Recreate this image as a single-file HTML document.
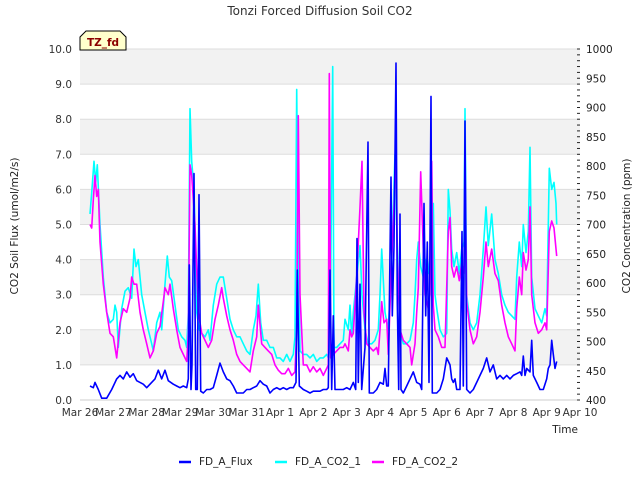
<!DOCTYPE html>
<html><head><meta charset="utf-8"><style>
body{margin:0;background:#fff;}
svg{display:block;font-family:"DejaVu Sans","Liberation Sans",sans-serif;}
</style></head><body>
<svg id="chart" width="640" height="480" viewBox="0 0 640 480">
<text x="320" y="15" text-anchor="middle" font-size="12" fill="#333">Tonzi Forced Diffusion Soil CO2</text>
<g id="bands"></g>
<g id="grid"></g>
<g id="series"></g>
<g id="axes"></g>
<text transform="translate(18,226) rotate(-90)" text-anchor="middle" font-size="10.5" fill="#222">CO2 Soil Flux (umol/m2/s)</text>
<text transform="translate(630,226) rotate(-90)" text-anchor="middle" font-size="10.5" fill="#222">CO2 Concentration (ppm)</text>
<text x="578" y="433" text-anchor="end" font-size="10.5" fill="#222">Time</text>
<g>
<path d="M80,37 L86,31 L120,31 L126,37 L126,50 L80,50 Z" fill="#ffffcc" stroke="#000" stroke-width="1"/>
<text x="103" y="46" text-anchor="middle" font-size="10.5" font-weight="bold" fill="#8b0000">TZ_fd</text>
</g>
<g>
<g><line x1="179" y1="462" x2="191" y2="462" stroke="#0000ff" stroke-width="2.5"/><text x="199" y="465" font-size="10.5" fill="#222">FD_A_Flux</text></g>
<g><line x1="275" y1="462" x2="287" y2="462" stroke="#00ffff" stroke-width="2.5"/><text x="295" y="465" font-size="10.5" fill="#222">FD_A_CO2_1</text></g>
<g><line x1="372" y1="462" x2="384" y2="462" stroke="#ff00ff" stroke-width="2.5"/><text x="392" y="465" font-size="10.5" fill="#222">FD_A_CO2_2</text></g>
</g>
</svg>
<script>
const xTickLabels=["Mar 26","Mar 27","Mar 28","Mar 29","Mar 30","Mar 31","Apr 1","Apr 2","Apr 3","Apr 4","Apr 5","Apr 6","Apr 7","Apr 8","Apr 9","Apr 10"];
const leftTicks=[0,1,2,3,4,5,6,7,8,9,10];
const rightTicks=[400,450,500,550,600,650,700,750,800,850,900,950,1000];
const fluxT=[0.3,0.4,0.45,0.55,0.65,0.8,0.95,1.1,1.2,1.3,1.4,1.5,1.6,1.7,1.8,1.9,2.0,2.1,2.25,2.35,2.45,2.55,2.65,2.8,2.9,3.0,3.1,3.2,3.25,3.28,3.33,3.36,3.42,3.47,3.52,3.57,3.62,3.7,3.8,3.9,4.0,4.1,4.2,4.3,4.4,4.5,4.6,4.7,4.8,4.9,5.0,5.1,5.2,5.3,5.4,5.5,5.6,5.7,5.8,5.9,6.0,6.1,6.2,6.3,6.4,6.48,6.52,6.58,6.7,6.8,6.9,7.0,7.1,7.2,7.3,7.4,7.45,7.5,7.55,7.6,7.65,7.7,7.8,7.9,8.0,8.1,8.2,8.27,8.31,8.35,8.4,8.45,8.55,8.64,8.68,8.8,8.9,9.0,9.1,9.15,9.2,9.25,9.33,9.37,9.42,9.48,9.52,9.56,9.6,9.63,9.7,9.8,9.9,10.0,10.1,10.2,10.25,10.32,10.37,10.42,10.47,10.53,10.57,10.7,10.8,10.9,11.0,11.1,11.15,11.2,11.25,11.3,11.4,11.46,11.5,11.55,11.6,11.7,11.8,11.9,12.0,12.1,12.2,12.3,12.4,12.5,12.6,12.7,12.8,12.9,13.0,13.1,13.2,13.25,13.3,13.35,13.4,13.5,13.55,13.6,13.7,13.8,13.9,14.0,14.05,14.1,14.15,14.2,14.25,14.3];
const fluxV=[0.4,0.35,0.5,0.3,0.05,0.05,0.3,0.6,0.7,0.6,0.8,0.65,0.75,0.55,0.5,0.45,0.35,0.45,0.6,0.85,0.6,0.85,0.55,0.45,0.4,0.35,0.4,0.35,0.6,3.85,0.3,1.0,6.45,0.3,0.3,5.85,0.25,0.2,0.3,0.3,0.35,0.7,1.05,0.8,0.6,0.55,0.4,0.2,0.2,0.2,0.3,0.3,0.35,0.4,0.55,0.45,0.4,0.2,0.3,0.35,0.3,0.35,0.3,0.35,0.35,0.5,3.7,0.4,0.3,0.25,0.2,0.25,0.25,0.25,0.3,0.3,0.35,3.7,0.3,2.4,0.3,0.3,0.3,0.3,0.35,0.3,0.5,0.3,4.6,0.5,3.3,0.3,1.5,7.35,0.2,0.2,0.3,0.5,0.45,0.9,0.4,0.4,6.35,2.4,4.4,9.6,2.8,0.3,5.3,0.3,0.2,0.4,0.6,0.8,0.5,0.45,0.3,5.6,2.4,4.5,0.5,8.65,0.2,0.2,0.3,0.6,1.2,1.0,0.6,0.5,0.6,0.3,0.3,4.8,0.4,7.95,0.3,0.2,0.3,0.5,0.7,0.9,1.2,0.8,1.0,0.6,0.7,0.6,0.7,0.6,0.7,0.75,0.8,0.7,1.25,0.7,0.9,0.8,1.7,0.7,0.5,0.3,0.3,0.6,0.9,1.0,1.7,1.3,0.9,1.1];
const co21T=[0.3,0.35,0.42,0.47,0.52,0.6,0.7,0.8,0.9,1.0,1.05,1.1,1.15,1.25,1.35,1.45,1.55,1.62,1.68,1.75,1.85,1.95,2.05,2.15,2.2,2.3,2.4,2.45,2.55,2.62,2.68,2.75,2.85,2.95,3.05,3.15,3.2,3.25,3.3,3.35,3.42,3.5,3.58,3.65,3.75,3.85,3.9,4.0,4.1,4.2,4.3,4.4,4.5,4.6,4.7,4.8,4.9,5.0,5.1,5.2,5.28,5.35,5.42,5.5,5.6,5.7,5.8,5.9,6.0,6.1,6.2,6.3,6.4,6.45,6.5,6.55,6.6,6.7,6.8,6.9,7.0,7.1,7.2,7.3,7.4,7.45,7.5,7.58,7.62,7.7,7.8,7.9,7.95,8.05,8.1,8.15,8.2,8.3,8.4,8.46,8.55,8.65,8.75,8.85,8.95,9.0,9.05,9.15,9.25,9.35,9.45,9.5,9.55,9.6,9.7,9.8,9.9,10.0,10.05,10.1,10.15,10.22,10.3,10.38,10.45,10.55,10.6,10.65,10.72,10.8,10.9,11.0,11.05,11.1,11.15,11.22,11.3,11.38,11.45,11.52,11.55,11.6,11.7,11.8,11.9,12.0,12.1,12.18,12.25,12.35,12.45,12.55,12.65,12.75,12.85,12.95,13.05,13.1,13.18,13.25,13.3,13.38,13.45,13.5,13.55,13.65,13.75,13.85,13.95,14.0,14.08,14.15,14.22,14.28,14.3];
const co21V=[718,754,808,772,802,700,610,550,532,538,562,550,490,556,586,592,574,658,628,640,580,550,520,496,484,532,550,520,598,646,610,604,562,520,508,502,490,550,898,808,760,550,520,514,508,520,502,562,598,610,610,574,538,520,508,508,496,484,478,520,544,598,532,502,502,490,490,472,472,466,478,466,478,508,931,640,484,478,478,472,478,466,472,472,478,472,490,970,490,490,496,502,538,520,562,508,550,610,664,580,520,496,496,502,520,580,658,550,520,640,820,700,610,520,496,496,502,532,580,640,670,628,610,640,616,670,736,580,550,520,508,514,760,724,658,628,652,616,658,670,898,580,532,520,532,580,658,730,664,718,640,616,580,562,550,544,538,610,670,628,700,652,688,832,610,556,544,532,556,544,796,760,772,736,700];
const co22T=[0.3,0.35,0.4,0.45,0.5,0.55,0.6,0.7,0.8,0.9,1.0,1.05,1.1,1.2,1.3,1.4,1.5,1.55,1.62,1.7,1.8,1.9,2.0,2.1,2.2,2.3,2.4,2.5,2.55,2.65,2.7,2.8,2.9,3.0,3.1,3.2,3.25,3.3,3.35,3.45,3.55,3.65,3.75,3.85,3.95,4.05,4.15,4.25,4.3,4.4,4.5,4.6,4.7,4.8,4.9,5.0,5.1,5.2,5.3,5.35,5.45,5.55,5.65,5.75,5.85,5.95,6.05,6.15,6.25,6.35,6.45,6.5,6.55,6.6,6.7,6.8,6.9,7.0,7.1,7.2,7.3,7.4,7.45,7.48,7.52,7.6,7.7,7.8,7.9,7.95,8.05,8.1,8.15,8.2,8.3,8.4,8.46,8.52,8.6,8.7,8.8,8.9,8.95,9.0,9.05,9.12,9.2,9.25,9.35,9.42,9.48,9.52,9.6,9.7,9.8,9.9,9.95,10.05,10.1,10.15,10.22,10.3,10.35,10.45,10.5,10.55,10.6,10.65,10.75,10.85,10.95,11.05,11.1,11.15,11.22,11.3,11.38,11.45,11.52,11.55,11.6,11.7,11.8,11.9,12.0,12.1,12.18,12.25,12.35,12.45,12.55,12.65,12.75,12.85,12.95,13.05,13.1,13.18,13.25,13.3,13.38,13.45,13.5,13.55,13.65,13.75,13.85,13.95,14.0,14.08,14.15,14.22,14.3];
const co22V=[700,694,742,784,748,760,670,598,550,514,508,490,472,532,556,550,574,610,598,598,550,520,496,472,484,514,526,568,592,580,598,556,520,490,478,466,514,802,784,700,550,514,502,490,502,538,562,592,574,544,520,502,478,466,460,454,448,484,508,562,496,490,484,478,460,451,445,445,454,442,448,520,886,580,460,460,448,457,448,454,442,454,460,958,472,478,484,490,490,496,484,520,508,514,610,730,808,550,496,490,484,490,478,520,568,532,538,478,640,730,838,640,520,502,496,490,460,496,550,592,790,658,580,556,580,808,562,520,508,490,490,688,712,628,610,628,604,634,616,814,568,520,496,508,550,610,670,628,658,616,604,562,532,508,496,484,556,610,580,652,622,640,730,580,532,514,520,532,520,688,706,694,646];

const L=80,R=580,T=49,B=400,NS="http://www.w3.org/2000/svg";
const xS=t=>L+t*(R-L)/15;
const yL=v=>B-v*(B-T)/10;
const yR=p=>B-(p-400)*(B-T)/600;
function mk(tag,attrs,parent){const e=document.createElementNS(NS,tag);for(const k in attrs)e.setAttribute(k,attrs[k]);parent.appendChild(e);return e;}
const bands=document.getElementById('bands'),grid=document.getElementById('grid'),axes=document.getElementById('axes'),series=document.getElementById('series');
for(let i=1;i<10;i+=2){
  const r=mk('rect',{x:L,y:yL(i+1),width:R-L,height:yL(i)-yL(i+1),fill:'#f2f2f2'},bands);
  
  
}
leftTicks.forEach(v=>{
  const g=mk('line',{x1:L,x2:R,y1:yL(v),y2:yL(v),stroke:v===0?'#cccccc':'#dddddd','stroke-width':1},grid);
  
  
  const t=mk('text',{x:L-8,y:yL(v)+4,'text-anchor':'end','font-size':10.5,fill:'#333'},axes);
  t.textContent=v.toFixed(1);
  
  
});
rightTicks.forEach(p=>{
  const t=mk('text',{x:R+6,y:yR(p)+4,'font-size':10.5,fill:'#222'},axes);
  t.textContent=p;
  
  
});
for(let p=400;p<=1000;p+=10){
  const tk=mk('line',{x1:R-3,x2:R,y1:yR(p),y2:yR(p),stroke:'#222','stroke-width':1},axes);
  
  
}
xTickLabels.forEach((lab,i)=>{
  const t=mk('text',{x:xS(i),y:416,'text-anchor':'middle','font-size':10.5,fill:'#333'},axes);
  t.textContent=lab;
  
  
});
function line(ts,vs,yf,color,name){
  const d=ts.map((t,i)=>(i?'L':'M')+xS(t).toFixed(1)+','+yf(vs[i]).toFixed(1)).join('');
  const p=mk('path',{d:d,fill:'none',stroke:color,'stroke-width':1.6,'stroke-linejoin':'round'},series);
  
  
}
line(co21T,co21V,yR,'#00ffff','series-fd-a-co2-1');
line(co22T,co22V,yR,'#ff00ff','series-fd-a-co2-2');
line(fluxT,fluxV,yL,'#0000ff','series-fd-a-flux');
</script>
</body></html>
